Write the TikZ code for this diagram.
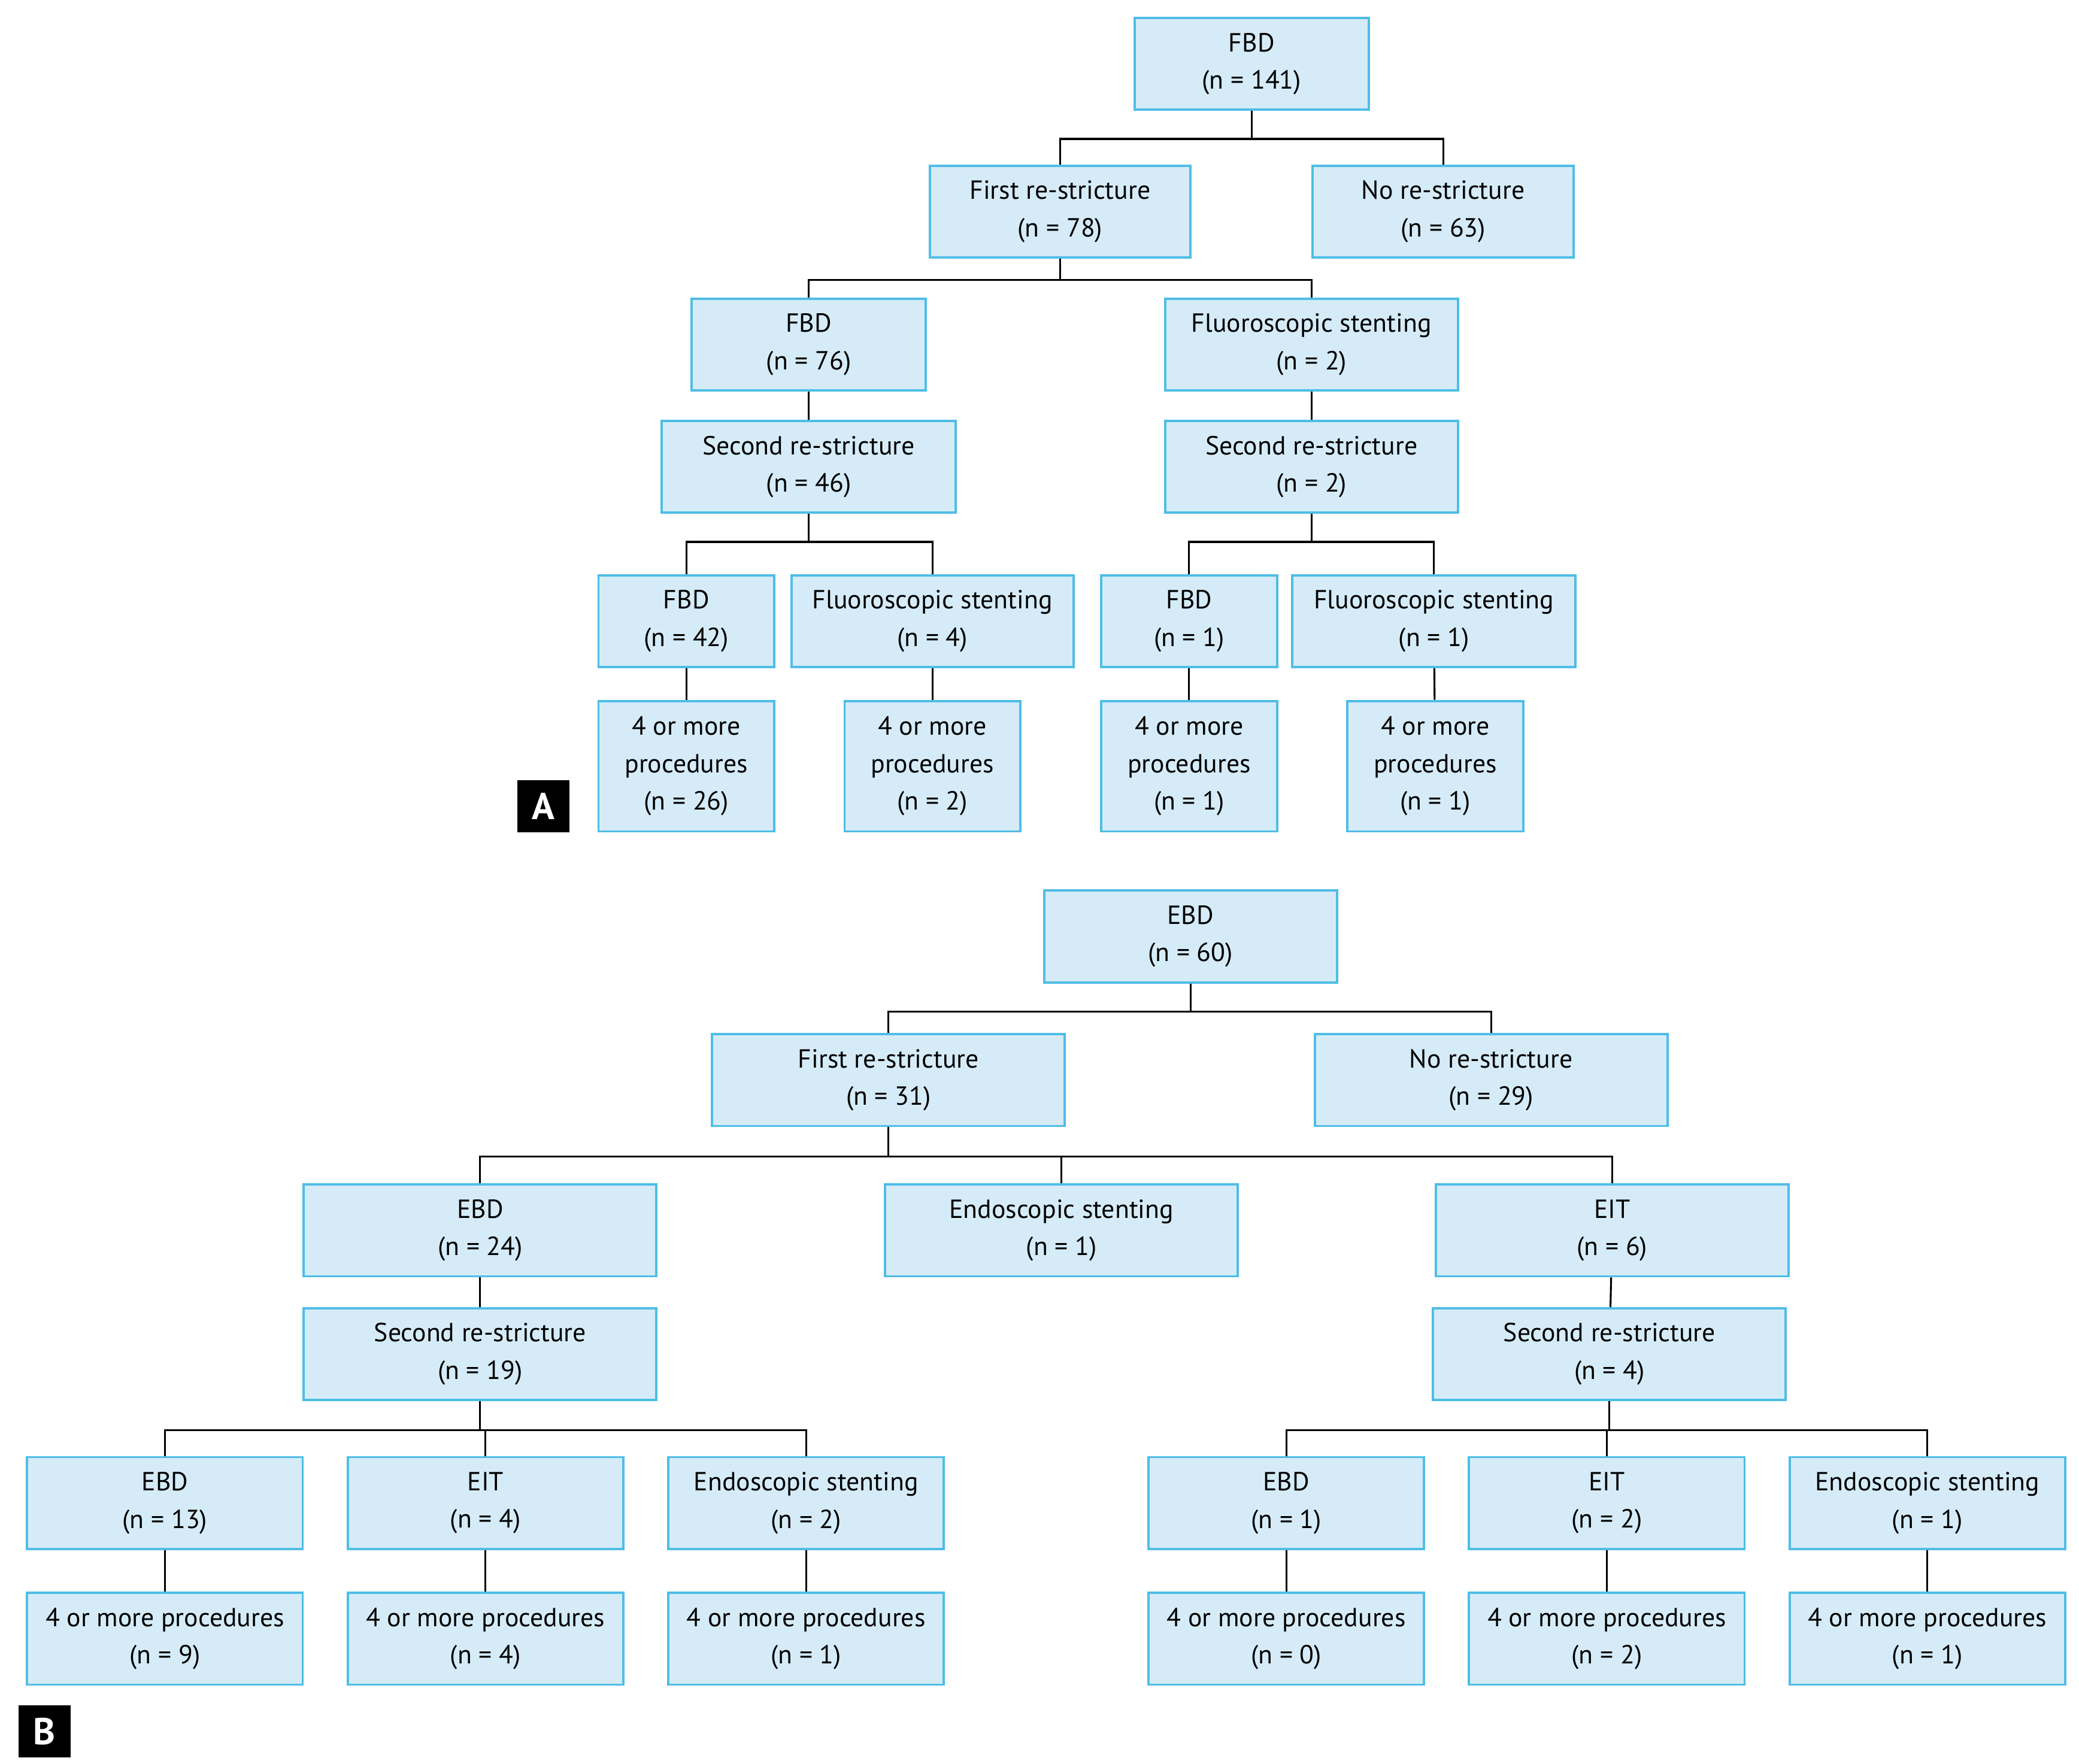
\documentclass[tikz,border=0pt]{standalone}
\usepackage{fontspec}
\setmainfont{PT Sans}
\definecolor{boxfill}{HTML}{D5ECF8}
\definecolor{boxline}{HTML}{4FBDE6}
\tikzset{
  box/.style = {draw = boxline, fill = boxfill, line width = 0.5pt, align = center,
                minimum height = 0.69cm, inner sep = 1pt,
                font = \fontsize{5.6}{8}\selectfont},
  tall/.style = {minimum height = 0.98cm},
  link/.style = {draw = black, line width = 0.4pt},
  panel/.style = {fill = black, text = white, minimum size = 0.39cm, inner sep = 0pt,
                  font = \fontsize{8}{8}\bfseries\selectfont}
}
\begin{document}
\begin{tikzpicture}[x = 0.01cm, y = -0.01cm]
\useasboundingbox (0, 0) rectangle (1563, 1326);
% panel A
\node[box, minimum width = 1.76cm] (afbd) at (941, 48) {FBD\\(n = 141)};
\node[box, minimum width = 1.96cm] (afirst) at (797, 159) {First re-stricture\\(n = 78)};
\node[box, minimum width = 1.96cm] (ano) at (1085, 159) {No re-stricture\\(n = 63)};
\node[box, minimum width = 1.76cm] (afbdb) at (608, 259) {FBD\\(n = 76)};
\node[box, minimum width = 2.20cm] (afls) at (986, 259) {Fluoroscopic stenting\\(n = 2)};
\node[box, minimum width = 2.21cm] (asecl) at (608, 351) {Second re-stricture\\(n = 46)};
\node[box, minimum width = 2.20cm] (asecr) at (986, 351) {Second re-stricture\\(n = 2)};
\node[box, minimum width = 1.32cm] (afbd42) at (516, 467) {FBD\\(n = 42)};
\node[box, minimum width = 2.12cm] (afls4) at (701, 467) {Fluoroscopic stenting\\(n = 4)};
\node[box, minimum width = 1.32cm] (afbd1) at (894, 467) {FBD\\(n = 1)};
\node[box, minimum width = 2.13cm] (afls1) at (1078, 467) {Fluoroscopic stenting\\(n = 1)};
\node[box, tall, minimum width = 1.32cm] (amore1) at (516, 576) {4 or more\\procedures\\(n = 26)};
\node[box, tall, minimum width = 1.32cm] (amore2) at (701, 576) {4 or more\\procedures\\(n = 2)};
\node[box, tall, minimum width = 1.32cm] (amore3) at (894, 576) {4 or more\\procedures\\(n = 1)};
\node[box, tall, minimum width = 1.32cm] (amore4) at (1079, 576) {4 or more\\procedures\\(n = 1)};
\node[panel] (alabel) at (408.5, 606) {A};
\draw[link] (afbd.south) -- ++(0, 21) -| (afirst.north);
\draw[link] (afbd.south) -- ++(0, 21) -| (ano.north);
\draw[link] (afirst.south) -- ++(0, 16) -| (afbdb.north);
\draw[link] (afirst.south) -- ++(0, 16) -| (afls.north);
\draw[link] (afbdb) -- (asecl);
\draw[link] (afls) -- (asecr);
\draw[link] (asecl.south) -- ++(0, 21) -| (afbd42.north);
\draw[link] (asecl.south) -- ++(0, 21) -| (afls4.north);
\draw[link] (asecr.south) -- ++(0, 21) -| (afbd1.north);
\draw[link] (asecr.south) -- ++(0, 21) -| (afls1.north);
\draw[link] (afbd42) -- (amore1);
\draw[link] (afls4) -- (amore2);
\draw[link] (afbd1) -- (amore3);
\draw[link] (afls1) -- (amore4);
% panel B
\node[box, minimum width = 2.20cm] (bebd) at (895, 704) {EBD\\(n = 60)};
\node[box, minimum width = 2.65cm] (bfirst) at (668, 812) {First re-stricture\\(n = 31)};
\node[box, minimum width = 2.65cm] (bno) at (1121, 812) {No re-stricture\\(n = 29)};
\node[box, minimum width = 2.65cm] (bebdb) at (361, 925) {EBD\\(n = 24)};
\node[box, minimum width = 2.65cm] (bendo) at (798, 925) {Endoscopic stenting\\(n = 1)};
\node[box, minimum width = 2.65cm] (beit) at (1212, 925) {EIT\\(n = 6)};
\node[box, minimum width = 2.65cm] (bsecl) at (361, 1018) {Second re-stricture\\(n = 19)};
\node[box, minimum width = 2.65cm] (bsecr) at (1210, 1018) {Second re-stricture\\(n = 4)};
\node[box, minimum width = 2.07cm] (bebd13) at (124, 1130) {EBD\\(n = 13)};
\node[box, minimum width = 2.07cm] (beit4) at (365, 1130) {EIT\\(n = 4)};
\node[box, minimum width = 2.07cm] (bendo2) at (606, 1130) {Endoscopic stenting\\(n = 2)};
\node[box, minimum width = 2.07cm] (bebd1) at (967, 1130) {EBD\\(n = 1)};
\node[box, minimum width = 2.07cm] (beit2) at (1208, 1130) {EIT\\(n = 2)};
\node[box, minimum width = 2.07cm] (bendo1) at (1449, 1130) {Endoscopic stenting\\(n = 1)};
\node[box, minimum width = 2.07cm] (bmore1) at (124, 1232) {4 or more procedures\\(n = 9)};
\node[box, minimum width = 2.07cm] (bmore2) at (365, 1232) {4 or more procedures\\(n = 4)};
\node[box, minimum width = 2.07cm] (bmore3) at (606, 1232) {4 or more procedures\\(n = 1)};
\node[box, minimum width = 2.07cm] (bmore4) at (967, 1232) {4 or more procedures\\(n = 0)};
\node[box, minimum width = 2.07cm] (bmore5) at (1208, 1232) {4 or more procedures\\(n = 2)};
\node[box, minimum width = 2.07cm] (bmore6) at (1449, 1232) {4 or more procedures\\(n = 1)};
\node[panel] (blabel) at (33.5, 1301.5) {B};
\draw[link] (bebd.south) -- ++(0, 21) -| (bfirst.north);
\draw[link] (bebd.south) -- ++(0, 21) -| (bno.north);
\draw[link] (bfirst.south) -- ++(0, 22) -| (bebdb.north);
\draw[link] (bfirst.south) -- ++(0, 22) -| (bendo.north);
\draw[link] (bfirst.south) -- ++(0, 22) -| (beit.north);
\draw[link] (bebdb) -- (bsecl);
\draw[link] (beit) -- (bsecr);
\draw[link] (bsecl.south) -- ++(0, 22) -| (bebd13.north);
\draw[link] (bsecl.south) -- ++(0, 22) -| (beit4.north);
\draw[link] (bsecl.south) -- ++(0, 22) -| (bendo2.north);
\draw[link] (bsecr.south) -- ++(0, 22) -| (bebd1.north);
\draw[link] (bsecr.south) -- ++(0, 22) -| (beit2.north);
\draw[link] (bsecr.south) -- ++(0, 22) -| (bendo1.north);
\draw[link] (bebd13) -- (bmore1);
\draw[link] (beit4) -- (bmore2);
\draw[link] (bendo2) -- (bmore3);
\draw[link] (bebd1) -- (bmore4);
\draw[link] (beit2) -- (bmore5);
\draw[link] (bendo1) -- (bmore6);
\end{tikzpicture}
\end{document}
